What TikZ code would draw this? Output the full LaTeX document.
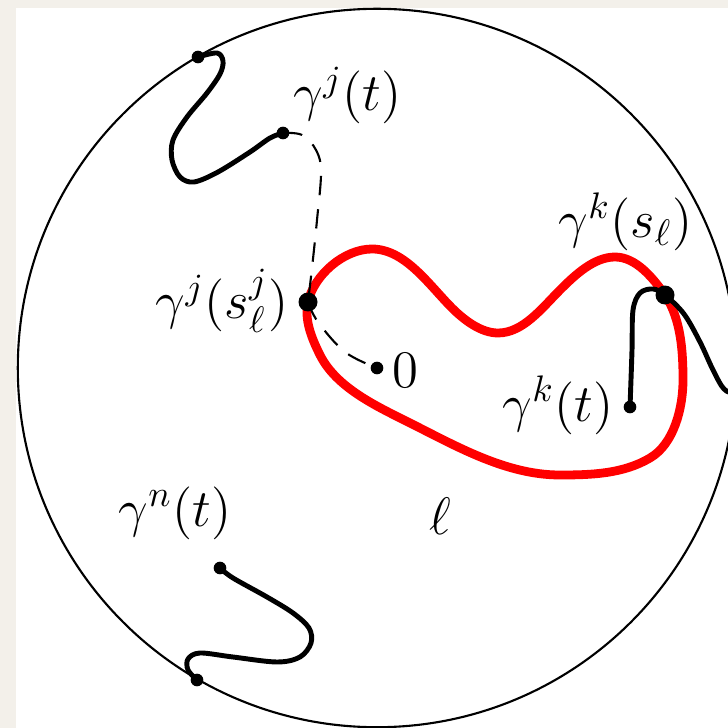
\RequirePackage{fix-cm}
\documentclass[tikz,border=0pt]{standalone}
\definecolor{paper}{RGB}{243,240,234}

\begin{document}
\begin{tikzpicture}[
  x=0.01cm, y=-0.01cm,
  font=\fontsize{15}{18}\selectfont,
  every node/.style={inner sep=0pt},
  rim/.style={draw=black, line width=0.6pt},
  trace/.style={draw=black, line width=1.4pt, line cap=round},
  redloop/.style={draw=red, line width=2.5pt},
  link/.style={draw=black, line width=0.6pt, dash pattern=on 5.5pt off 4pt},
  dot/.style={fill=black},
]
% paper and sheet
\fill[paper] (0,0) rectangle (728,728);
\fill[white] (16,8) rectangle (728,728);
\useasboundingbox (0,0) rectangle (728,728);
\clip (0,0) rectangle (728,728);

\coordinate (o)   at (377,368);
\coordinate (gjb) at (198,57);
\coordinate (gjt) at (283,133);
\coordinate (gjs) at (308,302);
\coordinate (gks) at (665,295);
\coordinate (gkt) at (630,407);
\coordinate (gke) at (748,378);
\coordinate (gnt) at (220,568);
\coordinate (gnb) at (197,680);

\draw[rim] (o) circle[radius=3.59cm];

% the loop
\draw[redloop] (gjs) .. controls (314,275) and (344,249) .. (372,249)
  .. controls (405,249) and (429,285) .. (452,308)
  .. controls (464,320) and (481,333) .. (498,333)
  .. controls (523,333) and (542,308) .. (560,290)
  .. controls (575,275) and (594,257) .. (615,257)
  .. controls (636,257) and (653,278) .. (gks)
  .. controls (681,319) and (683,351) .. (683,380)
  .. controls (683,408) and (674,444) .. (650,458)
  .. controls (623,474) and (591,475) .. (560,475)
  .. controls (503,475) and (451,443) .. (400,418)
  .. controls (370,403) and (335,385) .. (320,355)
  .. controls (312,339) and (304,320) .. cycle;

% the curves
\draw[trace] plot[smooth, tension=0.55] coordinates {(gjb) (217,53) (223,61) (220,74) (207,93) (187,117) (173,140) (172,160) (180,177) (194,182) (218,172) (250,152) (270,138) (gjt)};
\draw[trace] plot[smooth, tension=0.55] coordinates {(gkt) (632,350) (633,310) (640,293) (653,289) (gks) (684,314) (700,342) (713,370) (724,389) (735,392) (gke)};
\draw[trace] plot[smooth, tension=0.55] coordinates {(gnt) (233,578) (267,597) (293,613) (309,628) (311,643) (300,657) (277,662) (233,657) (200,653) (188,659) (188,670) (gnb)};

% dashed links
\draw[link] plot[smooth, tension=0.6] coordinates {(gjt) (302,135) (316,150) (321,172) (317,220) (312,268) (gjs)};
\draw[link] plot[smooth, tension=0.6] coordinates {(gjs) (318,322) (345,352) (o)};

% points
\foreach \p in {gjb,gjt,gkt,gnt,gnb,o}
  \fill[dot] (\p) circle (1.8pt);
\foreach \p in {gjs,gks}
  \fill[dot] (\p) circle (2.7pt);

% labels
\node[anchor=base west] (lgjt) at (293,111) {$\gamma^j(t)$};
\node[anchor=base east] (lgjs) at (289,319) {$\gamma^j(s^j_\ell)$};
\node[anchor=base west] (lgks) at (558,238) {$\gamma^k(s_\ell)$};
\node[anchor=base west] (lgkt) at (502,421) {$\gamma^k(t)$};
\node[anchor=base west] (lo)   at (392,387) {$0$};
\node[anchor=base west] (lgnt) at (118,526) {$\gamma^n(t)$};
\node[anchor=base] (lell) at (440,534) {$\ell$};
\end{tikzpicture}
\end{document}
